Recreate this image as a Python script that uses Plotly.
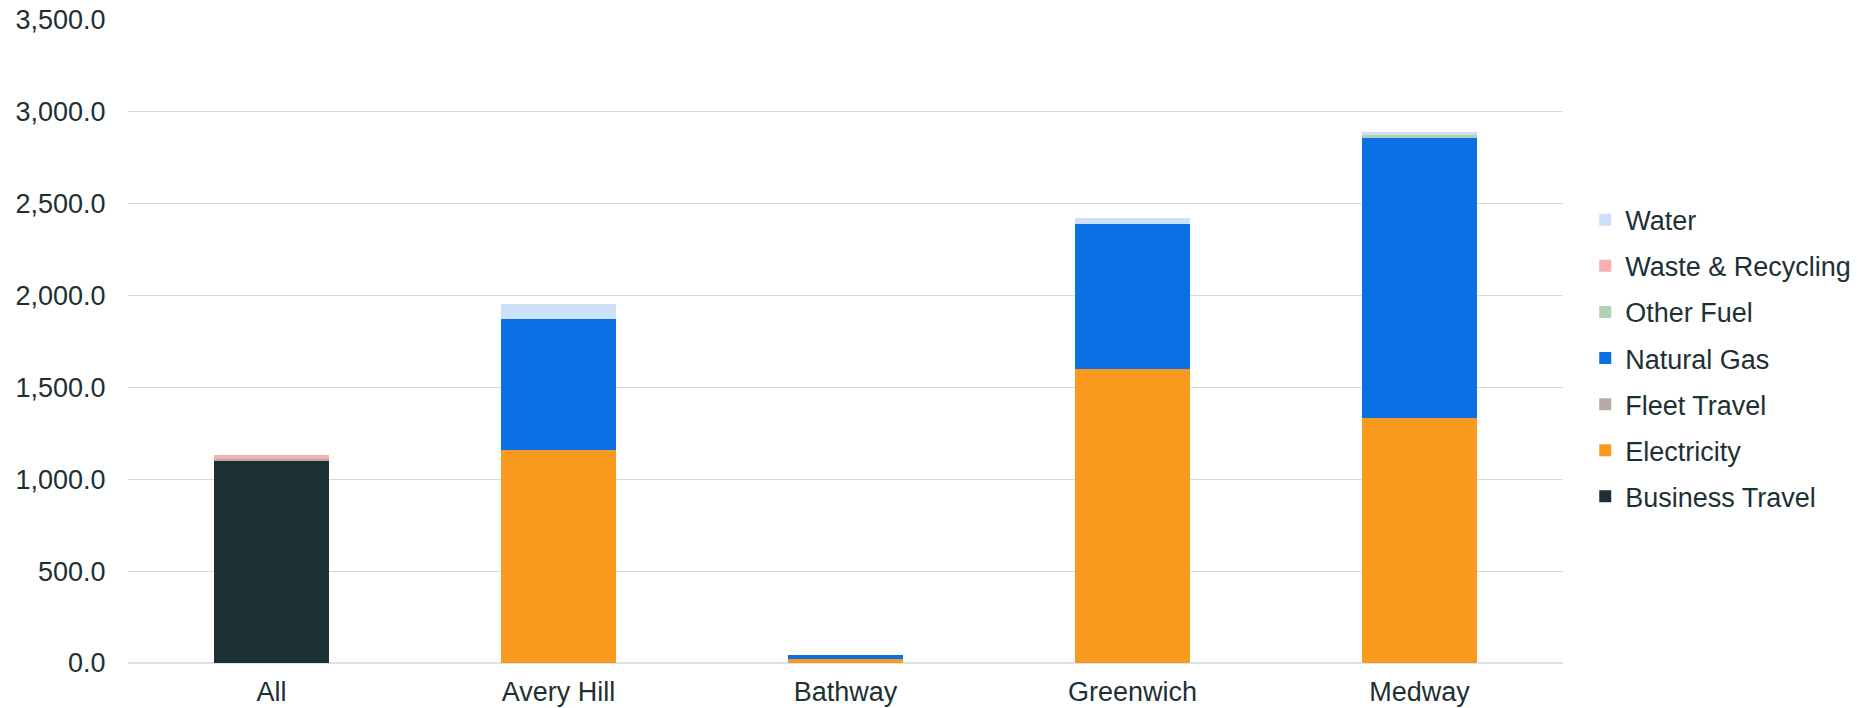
import plotly.graph_objects as go

# Emissions by site, split by source
sites = ["All", "Avery Hill", "Bathway", "Greenwich", "Medway"]

business_travel = [1100, 0, 0, 0, 0]
electricity = [0, 1158, 20, 1603, 1336]
fleet_travel = [8, 0, 0, 0, 0]
natural_gas = [0, 714, 23, 785, 1524]
other_fuel = [0, 0, 0, 0, 15]
waste_recycling = [22, 0, 0, 0, 0]
water = [0, 82, 0, 34, 13]

y_ticks = [0, 500, 1000, 1500, 2000, 2500, 3000, 3500]

series = [
    ("Business Travel", business_travel, "#1d3134"),
    ("Electricity", electricity, "#f99a1e"),
    ("Fleet Travel", fleet_travel, "#b8a9a6"),
    ("Natural Gas", natural_gas, "#0b70e3"),
    ("Other Fuel", other_fuel, "#b2d3b2"),
    ("Waste & Recycling", waste_recycling, "#f8b0b0"),
    ("Water", water, "#cce0f8"),
]

text_color = "#1d3134"
font_family = "Liberation Sans, Arial, sans-serif"

fig = go.Figure()
n = len(series)
for i, (name, values, color) in enumerate(series):
    fig.add_trace(go.Bar(
        x=sites,
        y=values,
        name=name,
        legendgroup=name,
        legendrank=n - i,  # top of the stack listed first
        marker=dict(color=color, line=dict(width=0)),
        width=0.4,
    ))

fig.update_layout(
    barmode="stack",
    width=1869,
    height=708,
    margin=dict(l=128, r=306, t=20, b=45),
    paper_bgcolor="white",
    plot_bgcolor="white",
    font=dict(family=font_family, size=27, color=text_color),
    legend=dict(
        traceorder="grouped",
        tracegroupgap=8,
        x=1.0155,
        xanchor="left",
        y=0.474,
        yanchor="middle",
        font=dict(size=27, color=text_color),
        itemwidth=30,
        bgcolor="rgba(0,0,0,0)",
    ),
    xaxis=dict(
        automargin=False,
        showgrid=False,
        showline=False,
        ticks="outside",
        ticklen=5,
        tickcolor="rgba(0,0,0,0)",
        tickfont=dict(size=27, color=text_color),
    ),
    yaxis=dict(
        automargin=False,
        range=[0, 3500],
        tickvals=y_ticks,
        tickformat=",.1f",
        showgrid=True,
        gridcolor="#d9d9d9",
        gridwidth=1.3,
        zeroline=True,
        zerolinecolor="#d5e6ea",
        zerolinewidth=2,
        showline=False,
        ticks="outside",
        ticklen=16,
        tickcolor="rgba(0,0,0,0)",
        tickfont=dict(size=27, color=text_color),
    ),
)

fig.write_html("out.html")
